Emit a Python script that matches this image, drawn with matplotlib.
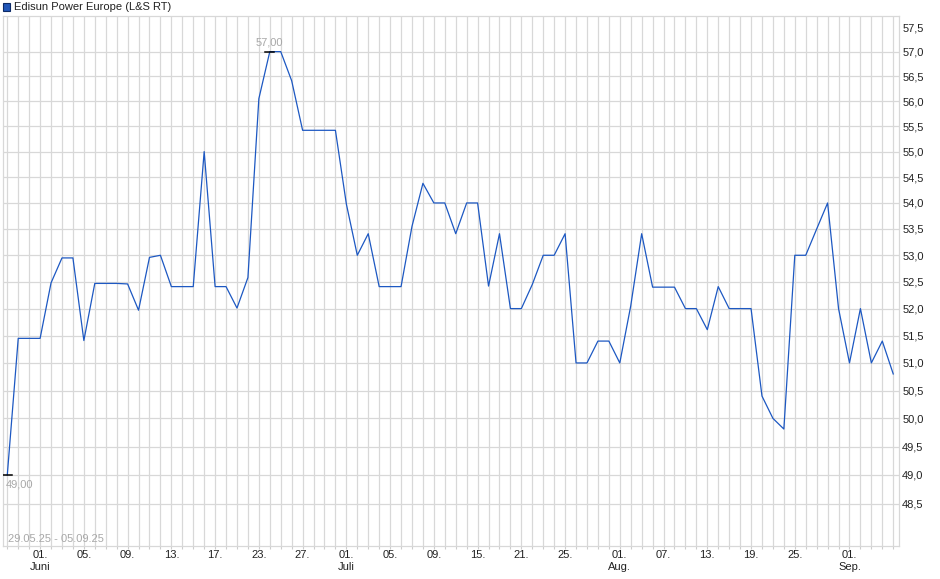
import matplotlib
matplotlib.use('Agg')
import matplotlib.pyplot as plt
from matplotlib.patches import Rectangle
from matplotlib.ticker import NullLocator

plt.rcParams['font.family'] = ['Liberation Sans', 'DejaVu Sans']

# daily closes 29.05.25 - 05.09.25 (one slot per trading day)
prices = [49.00, 51.45, 51.45, 51.45, 52.48, 52.95, 52.95, 51.41, 52.47, 52.47,
          52.47, 52.46, 51.97, 52.96, 53.00, 52.41, 52.41, 52.41, 55.00, 52.41,
          52.41, 52.01, 52.58, 56.05, 57.00, 57.00, 56.41, 55.42, 55.42, 55.42,
          55.42, 53.98, 53.00, 53.41, 52.41, 52.41, 52.41, 53.55, 54.38, 54.00,
          54.00, 53.41, 54.00, 54.00, 52.42, 53.41, 52.00, 52.00, 52.45, 53.00,
          53.00, 53.41, 51.00, 51.00, 51.40, 51.40, 51.00, 52.05, 53.41, 52.40,
          52.40, 52.40, 52.00, 52.00, 51.61, 52.41, 52.00, 52.00, 52.00, 50.40,
          50.00, 49.81, 53.00, 53.00, 53.50, 54.00, 52.00, 51.00, 52.00, 51.00,
          51.40, 50.80]

label_pos = [3, 7, 11, 15, 19, 23, 27, 31, 35, 39, 43, 47, 51, 56, 60, 64, 68, 72, 77]
label_txt = ['01.\nJuni', '05.', '09.', '13.', '17.', '23.', '27.', '01.\nJuli', '05.',
             '09.', '15.', '21.', '25.', '01.\nAug.', '07.', '13.', '19.', '25.', '01.\nSep.']

ytick_vals = [48.5, 49.0, 49.5, 50.0, 50.5, 51.0, 51.5, 52.0, 52.5, 53.0, 53.5,
              54.0, 54.5, 55.0, 55.5, 56.0, 56.5, 57.0, 57.5]

grid_col = '#d8d8d8'
line_col = '#1d58c2'
note_col = '#a8a8a8'

fig = plt.figure(figsize=(9.4, 5.79), dpi=100)
ax = fig.add_axes([2.7 / 940, 1 - 545.5 / 579, 896 / 940, 529.5 / 579])

x = list(range(len(prices)))
ax.plot(x, prices, color=line_col, lw=0.9, zorder=3)

# log scale like the original
ax.set_yscale('log')
ax.set_ylim(47.78, 57.73)
ax.set_xlim(-0.42, len(prices) - 0.5)

# horizontal grid (none at 57,5)
for v in ytick_vals[:-1]:
    ax.axhline(v, color=grid_col, lw=0.9, zorder=1)

ax.set_yticks(ytick_vals)
ax.set_yticklabels([f'{v:.1f}'.replace('.', ',') for v in ytick_vals])
ax.yaxis.set_minor_locator(NullLocator())
ax.yaxis.tick_right()
ax.tick_params(axis='y', length=0, pad=2.5, labelsize=8, labelcolor='#222222')

# vertical grid on every day, labels every few days
ax.set_xticks(x)
xlabels = [''] * len(prices)
for p, t in zip(label_pos, label_txt):
    xlabels[p] = t
ax.set_xticklabels(xlabels, fontsize=8, color='#222222', linespacing=1.3)
ax.grid(axis='x', color=grid_col, lw=0.9, zorder=1)
ax.tick_params(axis='x', length=2.5, width=0.8, color='#cccccc', pad=0.8)

for s in ax.spines.values():
    s.set_color(grid_col)
    s.set_linewidth(0.9)

# max / min markers
i_max = prices.index(max(prices))
i_min = prices.index(min(prices))
ax.plot([i_max - 0.42, i_max + 0.42], [prices[i_max]] * 2, color='black', lw=1.1, zorder=4)
ax.plot([i_min - 0.42, i_min + 0.42], [prices[i_min]] * 2, color='black', lw=1.1, zorder=4)
ax.annotate(f'{prices[i_max]:.2f}'.replace('.', ','), (i_max, prices[i_max]),
            xytext=(0, 3), textcoords='offset points', ha='center', va='bottom',
            fontsize=8, color=note_col)
ax.annotate(f'{prices[i_min]:.2f}'.replace('.', ','), (i_min, prices[i_min]),
            xytext=(-1, -3.5), textcoords='offset points', ha='left', va='top',
            fontsize=8, color=note_col)

# date range inside the plot, bottom left
ax.text(5.3 / 896, 6.5 / 529.5, '29.05.25 - 05.09.25', transform=ax.transAxes,
        ha='left', va='center', fontsize=8, color=note_col)

# legend-like title
fig.patches.append(Rectangle((3 / 940, 1 - 10.5 / 579), 7 / 940, 7 / 579,
                             transform=fig.transFigure, facecolor='#2156b8',
                             edgecolor='#0d2a66', lw=0.8))
fig.text(14 / 940, 1 - 6.5 / 579, 'Edisun Power Europe (L&S RT)', ha='left', va='center',
         fontsize=8, color='#222222')

fig.savefig('out.png', dpi=100)
